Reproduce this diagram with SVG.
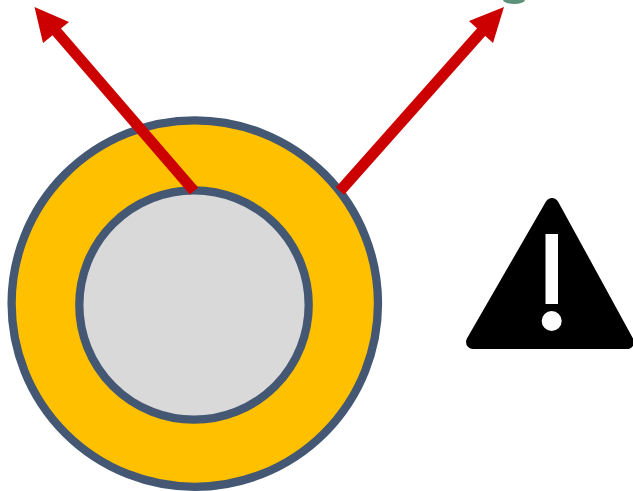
<svg xmlns="http://www.w3.org/2000/svg" width="633" height="491" viewBox="0 0 633 491">
<defs><style>.ring{stroke:#445773;stroke-width:8.300}.arrow{stroke:#cc0000;stroke-width:11;fill:none}.head{fill:#cc0000}</style></defs>
<rect width="633" height="491" fill="#fff"/>
<g id="outer-circle"><circle class="ring" cx="194.800" cy="303.600" r="183.200" fill="#ffc000"/></g>
<g id="inner-circle"><circle class="ring" cx="194" cy="305" r="114.700" fill="#d9d9d9"/></g>
<g id="connectors">
<line class="arrow" x1="194" y1="191" x2="56" y2="31"/>
<polygon class="head" points="34.500,7 69,22 43,43"/>
<line class="arrow" x1="340" y1="191" x2="483" y2="30"/>
<polygon class="head" points="504,7 493,43 469,21"/>
</g>
<g id="warning">
<path d="M552 205L627 342H473Z" fill="#000" stroke="#000" stroke-width="14" stroke-linejoin="round"/>
<rect x="545.500" y="234" width="12.500" height="70" fill="#fff"/>
<circle cx="551.700" cy="321" r="10" fill="#fff"/>
</g>
<g id="partial-mark"><path d="M503 0a11 4 0 0 0 22 0Z" fill="#5b9279"/></g>
</svg>
